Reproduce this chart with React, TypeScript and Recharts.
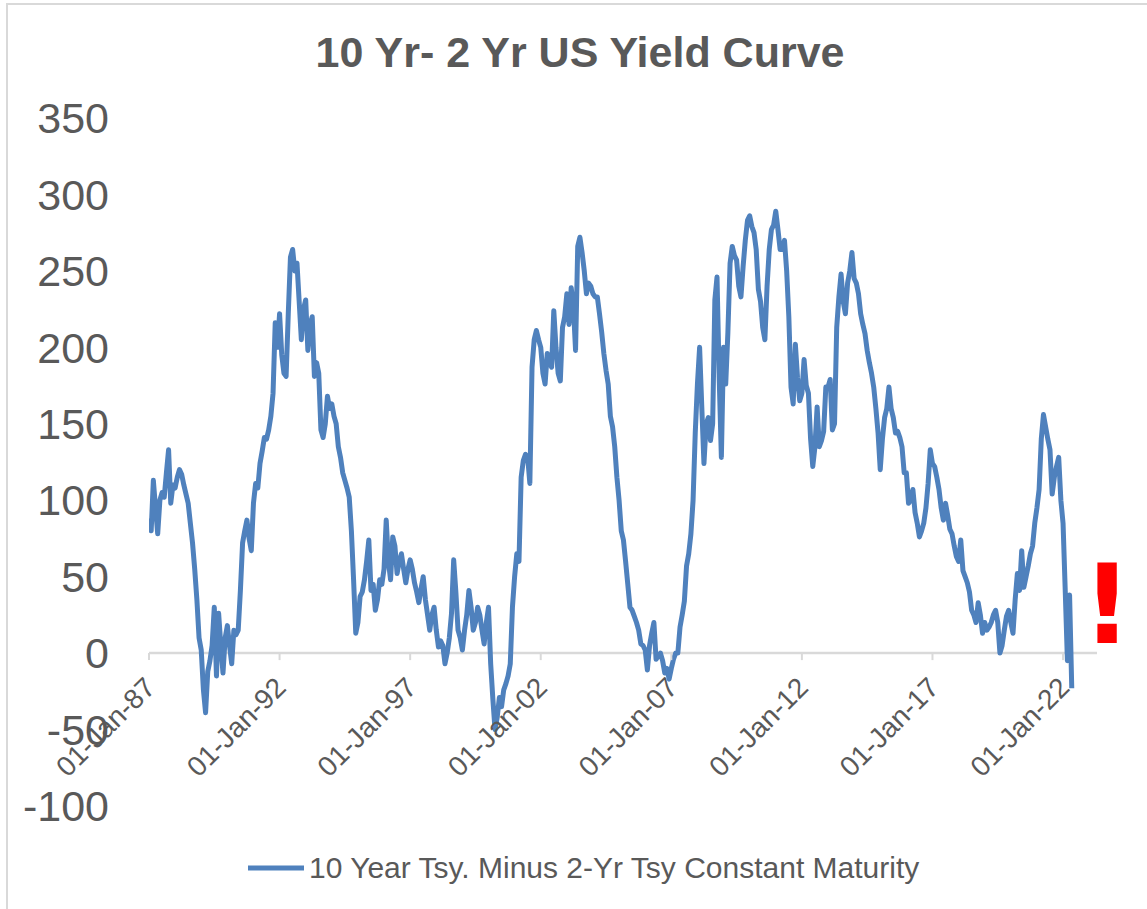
import { LineChart, Line, XAxis, YAxis, ReferenceLine, ReferenceDot, Legend } from "recharts"

const FIRST_YEAR = 1987

// monthly 10y - 2y spread in bp
const spread1987to1991 = [
  88, 80, 113, 95, 78, 100, 105, 102, 118, 133, 98, 110,
  108, 115, 120, 117, 110, 104, 98, 85, 72, 55, 35, 10,
  2, -24, -39, -12, -5, 5, 30, -15, 26, 5, -13, 10,
  18, 5, -7, 15, 12, 15, 41, 72, 80, 87, 75, 67,
  98, 111, 108, 124, 132, 141, 140, 146, 155, 170, 216, 200,
]
const spread1992to1996 = [
  222, 195, 183, 181, 222, 259, 264, 250, 255, 230, 205, 225,
  231, 198, 215, 220, 181, 190, 183, 146, 141, 150, 168, 160,
  163, 155, 150, 135, 128, 118, 113, 108, 102, 80, 48, 13,
  20, 37, 40, 48, 60, 74, 41, 45, 28, 35, 48, 45,
  55, 87, 60, 48, 76, 70, 52, 60, 65, 55, 46, 55,
]
const spread1997to2001 = [
  61, 55, 46, 40, 33, 42, 50, 35, 25, 15, 25, 30,
  15, 4, 8, 5, -7, 0, 10, 26, 61, 40, 15, 10,
  2, 15, 25, 41, 30, 15, 20, 30, 25, 15, 6, 20,
  30, -7, -30, -50, -42, -29, -35, -24, -20, -15, -7, 30,
  50, 65, 60, 115, 126, 130, 128, 111, 187, 205, 211, 205,
]
const spread2002to2006 = [
  200, 183, 176, 196, 190, 187, 224, 200, 183, 178, 213, 220,
  235, 215, 239, 227, 198, 266, 272, 262, 250, 235, 242, 240,
  235, 233, 233, 222, 210, 196, 185, 176, 155, 148, 135, 115,
  100, 80, 74, 60, 45, 30, 28, 24, 20, 15, 6, 5,
  2, -11, 5, 13, 20, -4, -2, 0, -5, -13, -10, -17,
]
const spread2007to2011 = [
  -10, -4, 0, 0, 17, 25, 34, 57, 65, 78, 100, 144,
  176, 200, 161, 124, 150, 154, 139, 150, 231, 246, 180, 128,
  200, 176, 210, 255, 266, 260, 257, 240, 233, 253, 270, 283,
  286, 279, 275, 264, 238, 230, 213, 205, 240, 264, 277, 280,
  289, 277, 264, 264, 270, 250, 220, 174, 163, 202, 180, 165,
]
const spread2012to2016 = [
  170, 192, 175, 170, 140, 122, 135, 161, 135, 139, 145, 174,
  174, 179, 146, 150, 213, 233, 248, 230, 222, 242, 250, 262,
  245, 242, 235, 222, 215, 209, 198, 190, 183, 174, 160, 144,
  120, 140, 154, 160, 174, 160, 154, 144, 145, 141, 135, 118,
  118, 98, 100, 107, 92, 85, 76, 80, 85, 95, 111, 133,
]
const spread2017to2022 = [
  124, 122, 115, 107, 95, 87, 98, 90, 81, 78, 70, 63,
  60, 74, 54, 50, 46, 40, 28, 25, 20, 33, 25, 13,
  20, 15, 17, 20, 25, 28, 20, 0, 5, 15, 24, 28,
  20, 13, 35, 52, 41, 67, 43, 50, 57, 65, 70, 85,
  95, 107, 140, 156, 148, 140, 133, 104, 115, 122, 128, 100,
  85, 41, -5, 38, -23,
]

const tickYears = [1987, 1992, 1997, 2002, 2007, 2012, 2017, 2022]
const tickLabels = ["01-Jan-87", "01-Jan-92", "01-Jan-97", "01-Jan-02", "01-Jan-07", "01-Jan-12", "01-Jan-17", "01-Jan-22"]
const yTicks = [-100, -50, 0, 50, 100, 150, 200, 250, 300, 350]

const chartTitle = "10 Yr- 2 Yr US Yield Curve"
const seriesName = "10 Year Tsy. Minus 2-Yr Tsy Constant Maturity"

const spreadValues = [
  ...spread1987to1991,
  ...spread1992to1996,
  ...spread1997to2001,
  ...spread2002to2006,
  ...spread2007to2011,
  ...spread2012to2016,
  ...spread2017to2022,
]
const data = spreadValues.map((v, i) => ({ t: FIRST_YEAR + i / 12, spread: v }))

const FONT = "'Liberation Sans', Arial, Helvetica, sans-serif"
const TEXT = "#595959"
const BLUE = "#4f81bd"
const AXIS = "#d9d9d9"

function DateTick({ cx, cy, text }: { cx: number; cy: number; text: string }) {
  const ax = cx + 8
  const ay = cy + 36
  return (
    <g>
      <line x1={cx} y1={cy} x2={cx} y2={cy + 7} stroke={AXIS} strokeWidth={2} />
      <text
        x={ax}
        y={ay}
        transform={`rotate(-45 ${ax} ${ay})`}
        textAnchor="end"
        fontSize={28}
        fontFamily={FONT}
        fill={TEXT}
      >
        {text}
      </text>
    </g>
  )
}

function LegendContent() {
  return (
    <div style={{ display: "flex", alignItems: "center", fontFamily: FONT }}>
      <svg width={56} height={10}>
        <line x1={0} y1={5} x2={56} y2={5} stroke={BLUE} strokeWidth={5} />
      </svg>
      <span style={{ fontSize: 30, lineHeight: "30px", color: TEXT, marginLeft: 5, whiteSpace: "nowrap" }}>
        {seriesName}
      </span>
    </div>
  )
}

export default function App() {
  return (
    <div
      style={{
        position: "fixed",
        left: 0,
        top: 0,
        width: 1147,
        height: 909,
        overflow: "hidden",
        background: "#fff",
        fontFamily: FONT,
      }}
    >
      <div
        style={{
          position: "absolute",
          left: 6,
          top: 3,
          width: 1200,
          height: 1000,
          borderLeft: `2px solid ${AXIS}`,
          borderTop: `2px solid ${AXIS}`,
        }}
      />
      <div
        style={{
          position: "absolute",
          left: 0,
          top: 31,
          width: 1160,
          textAlign: "center",
          fontSize: 43,
          lineHeight: "43px",
          fontWeight: "bold",
          color: TEXT,
        }}
      >
        {chartTitle}
      </div>
      <div style={{ position: "absolute", left: 0, top: 0 }}>
        <LineChart width={1147} height={909} data={data} margin={{ top: 118, right: 50, bottom: 103, left: 0 }}>
          <XAxis dataKey="t" type="number" domain={[1987, 2023.3]} allowDataOverflow hide />
          <YAxis
            type="number"
            domain={[-100, 350]}
            ticks={yTicks}
            width={149}
            axisLine={false}
            tickLine={false}
            tickSize={0}
            tickMargin={40}
            tick={{ fontSize: 43, fill: TEXT, fontFamily: FONT }}
          />
          <ReferenceLine y={0} stroke={AXIS} strokeWidth={2.5} />
          {tickYears.map((yr, i) => (
            <ReferenceDot
              key={yr}
              x={yr}
              y={0}
              r={0}
              shape={(p: any) => <DateTick cx={p.cx} cy={p.cy} text={tickLabels[i]} />}
            />
          ))}
          <Line
            dataKey="spread"
            name={seriesName}
            type="linear"
            stroke={BLUE}
            strokeWidth={5}
            strokeLinejoin="round"
            dot={false}
            isAnimationActive={false}
          />
          <Legend
            layout="horizontal"
            verticalAlign="middle"
            align="center"
            wrapperStyle={{ left: 248, top: 853, width: 700 }}
            content={() => <LegendContent />}
          />
        </LineChart>
      </div>
      <div
        style={{
          position: "absolute",
          left: 1082,
          top: 550,
          width: 40,
          textAlign: "center",
          fontSize: 110,
          lineHeight: "110px",
          fontWeight: "bold",
          fontFamily: "'DejaVu Sans', sans-serif",
          color: "#ff0000",
        }}
      >
        !
      </div>
    </div>
  )
}
